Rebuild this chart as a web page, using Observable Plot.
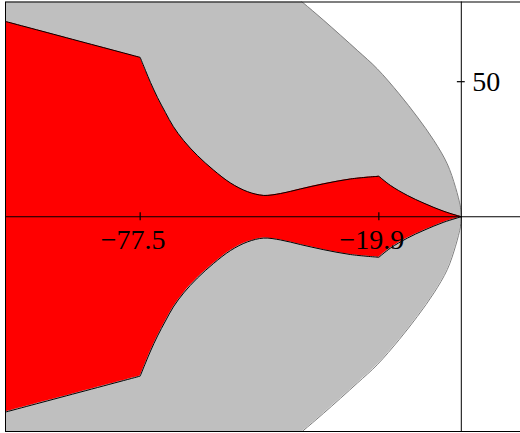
<!DOCTYPE html>
<html>
<head>
<meta charset="utf-8">
<script src="https://cdn.jsdelivr.net/npm/d3@7"></script>
<script src="https://cdn.jsdelivr.net/npm/@observablehq/plot@0.6"></script>
<style>
  html, body { margin: 0; padding: 0; background: #fff; overflow: hidden; width: 520px; height: 433px; }
  #chart { width: 520px; height: 433px; overflow: hidden; }
  #chart svg { display: block; max-width: none !important; }
</style>
</head>
<body>
<div id="chart"></div>
<script>
// Grey region boundary (upper half, mirrored about the real axis): imaginary part y, real part x
const greyY = [0, 3.5, 10.9, 19.6, 28.2, 36.9, 45.5, 54.8, 61.6, 72.7, 79.5, 86.0];
const greyX = [0, -0.2, -1.4, -3.4, -6.6, -10.6, -15.0, -20.3, -25.1, -33.2, -38.4, -43.5];

// Red region upper boundary, three pieces (kinks at -77.5 and -19.9)
const redX1 = [-110, -77.5];
const redY1 = [72.3, 59.0];
const redX2 = [-77.5, -76.2, -75.0, -73.3, -71.4, -69.5, -67.0, -63.7, -59.8, -55.7, -51.6, -47.7, -43.6, -38.8, -33.2, -26.7, -19.9];
const redY2 = [59.0, 54.1, 49.7, 44.1, 38.6, 33.4, 28.2, 22.7, 17.3, 12.5, 9.3, 7.9, 8.6, 10.3, 12.2, 14.0, 15.0];
const redX3 = [-19.9, -17.1, -13.0, -9.0, -4.2, 0];
const redY3 = [15.0, 11.6, 7.9, 5.0, 2.0, 0];

// Tick values and labels
const xTicks = [-77.5, -19.9];
const xTickLabels = ["\u221277.5", "\u221219.9"];
const yTicks = [50];
const yTickLabels = ["50"];

// Build tables
const greyRows = [];
for (let i = greyY.length - 1; i >= 1; i--) greyRows.push({y: -greyY[i], x: greyX[i]});
for (let i = 0; i < greyY.length; i++) greyRows.push({y: greyY[i], x: greyX[i]});

// one series; the kink points appear twice, which makes the Catmull-Rom curve break sharply there
const redRows = [];
[[redX1, redY1], [redX2, redY2], [redX3, redY3]].forEach(([xs, ys]) => {
  xs.forEach((x, i) => redRows.push({x, top: ys[i], bottom: -ys[i]}));
});

const xLeft = -110, yMax = 79.5;
const font = "'Liberation Serif', 'DejaVu Serif', serif";

const plot = Plot.plot({
  width: 530,
  height: 433,
  marginLeft: 5,
  marginRight: 0,
  marginTop: 1.5,
  marginBottom: 2,
  x: {domain: [xLeft, 16.7], axis: null},
  y: {domain: [-yMax, yMax], axis: null},
  style: {background: "white", fontFamily: font},
  marks: [
    Plot.areaX(greyRows, {y: "y", x1: () => xLeft - 5, x2: "x", curve: "catmull-rom", fill: "#bfbfbf", clip: true}),
    Plot.line(greyRows, {x: "x", y: "y", curve: "catmull-rom", stroke: "#7f7f7f", strokeWidth: 1, clip: true}),
    Plot.areaY(redRows, {x: "x", y1: "bottom", y2: "top", curve: "catmull-rom", fill: "#ff0000"}),
    Plot.line(redRows, {x: "x", y: "top", curve: "catmull-rom", stroke: "black", strokeWidth: 1}),
    Plot.line(redRows, {x: "x", y: "bottom", curve: "catmull-rom", stroke: "black", strokeWidth: 1}),
    Plot.ruleY([0], {stroke: "black", strokeWidth: 1}),
    Plot.ruleX([0], {stroke: "black", strokeWidth: 1}),
    Plot.ruleX(xTicks, {x: d => d, y1: -1.5, y2: 1.5, stroke: "black", strokeWidth: 1.2}),
    Plot.ruleY(yTicks, {y: d => d, x1: -0.95, x2: 0.95, stroke: "black", strokeWidth: 1.2}),
    Plot.text(xTicks, {x: d => d, y: () => 0, text: (d, i) => xTickLabels[i], dy: 23, dx: -7,
      fontSize: 28, fontFamily: font, fill: "black", textAnchor: "middle", lineAnchor: "middle"}),
    Plot.text(yTicks, {x: () => 0, y: d => d, text: (d, i) => yTickLabels[i], dx: 11, dy: 0,
      fontSize: 28, fontFamily: font, fill: "black", textAnchor: "start", lineAnchor: "middle"}),
    Plot.frame({stroke: "black", strokeWidth: 1})
  ]
});
plot.style.maxWidth = "none";
plot.style.height = "433px";
document.getElementById("chart").appendChild(plot);
</script>
</body>
</html>
